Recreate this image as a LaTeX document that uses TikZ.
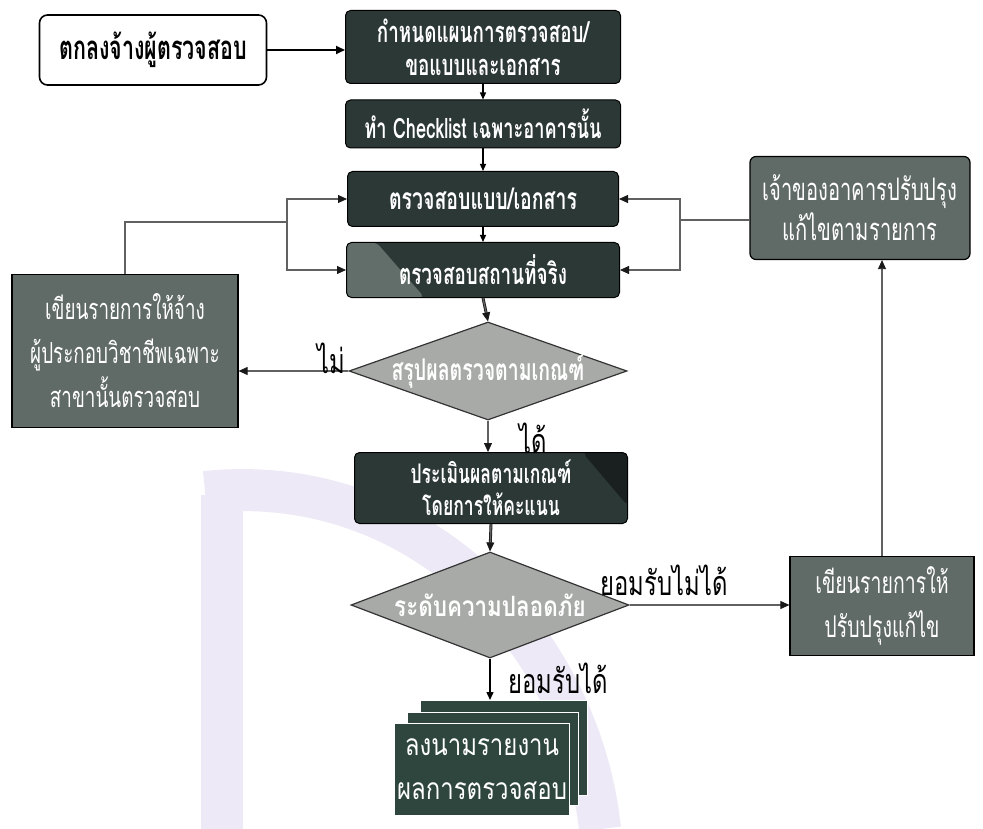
\documentclass[tikz,border=0pt]{standalone}
\usepackage{fontspec}
\newfontfamily\thai[Script=Thai,FakeStretch=0.65]{Loma}
\newfontfamily\thaiw[Script=Thai,FakeStretch=0.8]{Loma}
\newfontfamily\thain[Script=Thai,FakeStretch=0.7]{Loma}
\usetikzlibrary{shapes.geometric,arrows.meta,calc}
\definecolor{boxdark}{RGB}{44,56,54}
\definecolor{cornerlight}{RGB}{98,110,106}
\definecolor{cornerdark}{RGB}{26,32,31}
\definecolor{midgray}{RGB}{96,106,102}
\definecolor{diagray}{RGB}{168,170,168}
\definecolor{sheet}{RGB}{46,70,62}
\definecolor{wmark}{RGB}{238,233,246}
\tikzset{
  darkbox/.style={draw=black, line width=1pt, rounded corners=5pt, fill=boxdark, text=white, align=center, inner sep=0pt},
  midbox/.style={draw=black, line width=1.2pt, fill=midgray, text=white, align=center, inner sep=0pt},
  decision/.style={diamond, draw=black!80, line width=1.2pt, fill=diagray, inner sep=0pt},
  dtext/.style={text=white, inner sep=0pt},
  lbl/.style={font=\thain\fontsize{34}{36}\selectfont, inner sep=0pt},
  tipa/.style={-{Triangle[length=9pt,width=8pt]}},
  conn/.style={draw=black!90, line width=0.8pt, double=black!62, double distance=1.3pt},
  thinarr/.style={draw=black, line width=1.2pt, -{Triangle[length=7pt,width=6pt]}},
}
\begin{document}
\begin{tikzpicture}[x=1pt,y=-1pt]
\useasboundingbox (0,0) rectangle (983,829);
% watermark
\draw[wmark, line width=42pt] (222,495) -- (222,829);
\draw[wmark, line width=42pt] (205,492) .. controls (420,470) and (580,640) .. (600,829);

% nodes
\node[draw=black, line width=1.6pt, rounded corners=8pt, fill=white, minimum width=227pt, minimum height=70pt, font=\thai\bfseries\fontsize{33}{36}\selectfont] (A) at (153,50) {ตกลงจ้างผู้ตรวจสอบ};
\node[darkbox, minimum width=275pt, minimum height=73pt, font=\thai\bfseries\fontsize{29}{33}\selectfont] (B) at (483,47) {กำหนดแผนการตรวจสอบ/\\ขอแบบและเอกสาร};
\node[darkbox, minimum width=275pt, minimum height=48pt, font=\thai\bfseries\fontsize{28}{30}\selectfont] (C) at (483,124) {ทำ Checklist เฉพาะอาคารนั้น};
\node[darkbox, minimum width=271pt, minimum height=55pt, font=\thai\bfseries\fontsize{30}{33}\selectfont] (D) at (483,199) {ตรวจสอบแบบ/เอกสาร};
\node[darkbox, minimum width=273pt, minimum height=55pt, font=\thai\bfseries\fontsize{29}{33}\selectfont,
  path picture={\fill[cornerlight] (path picture bounding box.north west) -- ++(30pt,0) -- ([xshift=78pt]path picture bounding box.south west) -- (path picture bounding box.south west) -- cycle;}] (E) at (483,270) {ตรวจสอบสถานที่จริง};
\node[decision, minimum width=278pt, minimum height=98pt] (F) at (488,371) {};
\node[dtext, font=\thai\bfseries\fontsize{30}{33}\selectfont] (Ft) at (F.center) {สรุปผลตรวจตามเกณฑ์};
\node[midbox, minimum width=226pt, minimum height=153pt, font=\thai\fontsize{29}{44}\selectfont] (G) at (125,351) {เขียนรายการให้จ้าง\\ผู้ประกอบวิชาชีพเฉพาะ\\สาขานั้นตรวจสอบ};
\node[darkbox, minimum width=273pt, minimum height=71pt, font=\thai\bfseries\fontsize{27}{32}\selectfont,
  path picture={\fill[cornerdark] ([xshift=-45pt]path picture bounding box.north east) -- (path picture bounding box.north east) -- ([yshift=-53pt]path picture bounding box.north east) -- cycle;}] (H) at (491,488) {ประเมินผลตามเกณฑ์\\โดยการให้คะแนน};
\node[decision, minimum width=278pt, minimum height=106pt] (I) at (490,605) {};
\node[dtext, font=\thaiw\bfseries\fontsize{28}{30}\selectfont] (It) at (I.center) {ระดับความปลอดภัย};
\node[midbox, minimum width=184pt, minimum height=99pt, font=\thai\fontsize{30}{44}\selectfont] (L) at (882,606) {เขียนรายการให้\\ปรับปรุงแก้ไข};
\node[midbox, rounded corners=6pt, minimum width=220pt, minimum height=103pt, font=\thai\fontsize{31}{40}\selectfont] (K) at (860,208) {เจ้าของอาคารปรับปรุง\\แก้ไขตามรายการ};

% document stack
\fill[sheet, draw=white, line width=0.8pt] (420,700) rectangle (587,795);
\fill[sheet, draw=white, line width=0.8pt] (407,712) rectangle (578,805);
\node[fill=sheet, draw=white, line width=0.8pt, inner sep=0pt, minimum width=175pt, minimum height=92pt, text=white, align=center, font=\thaiw\fontsize{30}{44}\selectfont] (J) at (482,769) {ลงนามรายงาน\\ผลการตรวจสอบ};
\coordinate (jtop) at (492,700);

% connectors
\draw[draw=black, line width=1.8pt, -{Triangle[length=9pt,width=8pt]}] (A.east) -- (A.east -| B.west);
\draw[thinarr] (B.south) -- (C.north);
\draw[thinarr] (C.south) -- (D.north);
\draw[thinarr] (D.south) -- (E.north);
\draw[conn, tipa] (E.south) -- (F.north);
\draw[conn, tipa] (F.south) -- (F.south |- H.north);
\node[lbl] (ldai) at (533,438) {ได้};
\draw[conn, tipa] (F.west) -- (F.west -| G.east);
\node[lbl] (lmai) at (331,358) {ไม่};
\coordinate (gl) at (287,222);
\draw[conn] (G.north) |- (gl);
\draw[conn, tipa] (gl) |- (D.west);
\draw[conn, tipa] (gl) |- (E.west);
\coordinate (kl) at (680,220);
\draw[conn] (kl -| K.west) -- (kl);
\draw[conn, tipa] (kl) |- (D.east);
\draw[conn, tipa] (kl) |- (E.east);
\draw[conn, tipa] (H.south) -- (I.north);
\draw[conn, tipa] (I.east) -- (I.east -| L.west);
\node[lbl] (lno) at (664,580) {ยอมรับไม่ได้};
\draw[conn, tipa] (L.north) -- (L.north |- K.south);
\draw[draw=black, line width=1.4pt, -{Triangle[length=8pt,width=7pt]}] (I.south) -- (I.south |- jtop);
\node[lbl] (lyes) at (558,678) {ยอมรับได้};
\end{tikzpicture}
\end{document}
